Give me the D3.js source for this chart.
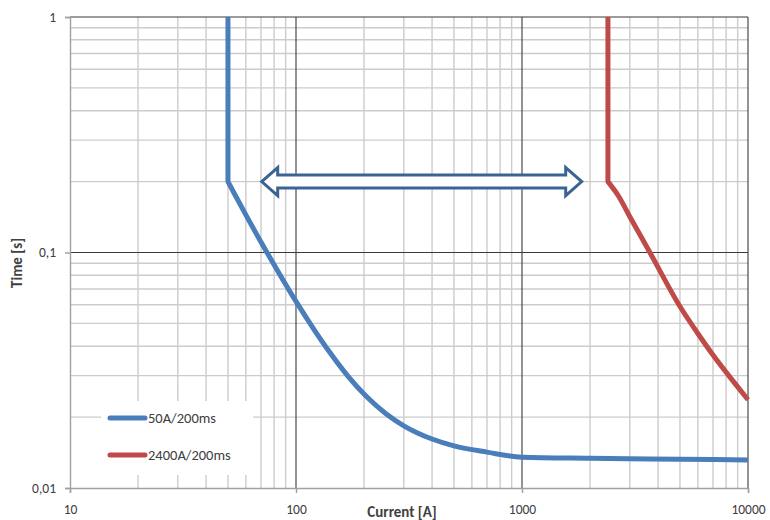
<!DOCTYPE html>
<html>
<head>
<meta charset="utf-8">
<script src="https://cdn.jsdelivr.net/npm/d3@7/dist/d3.min.js"></script>
<style>
  body { margin: 0; background: #fff; }
  svg text { font-family: Carlito, Lato, "Open Sans", sans-serif; fill: #404040; }
</style>
</head>
<body>
<div id="chart"></div>
<script>
// series data
const blueCurrent = [50, 50, 53.7, 60, 73, 85, 100, 120, 141, 170, 205, 250, 300, 400, 500, 700, 1000, 2000, 5000, 10000];
const blueTime = [1, 0.2, 0.1759, 0.1445, 0.1032, 0.0803, 0.062, 0.0472, 0.0377, 0.0298, 0.02446, 0.02067, 0.01837, 0.01614, 0.01509, 0.0142, 0.01352, 0.01338, 0.01325, 0.01315];
const redCurrent = [2400, 2400, 2668, 3000, 3681, 5000, 6000, 7015, 8913, 10000];
const redTime = [1, 0.2, 0.1742, 0.1419, 0.1, 0.059, 0.0453, 0.0366, 0.0272, 0.0237];
const seriesNames = ['50A/200ms', '2400A/200ms'];
const seriesColors = ['#4a7ebb', '#be4b48'];

const xTicks = [10, 100, 1000, 10000];
const yTicks = [0.01, 0.1, 1];
const yTickLabels = ['0,01', '0,1', '1'];

// double arrow annotation (in data units)
const arrowFrom = 70.5;
const arrowTo = 1837;
const arrowTime = 0.2;

const width = 770, height = 520;
const margin = { top: 17, right: 22, bottom: 32, left: 70 };
const fontStack = 'Carlito, Lato, "Open Sans", sans-serif';

const svg = d3.select('#chart').append('svg')
  .attr('width', width)
  .attr('height', height);

const x = d3.scaleLog().domain([10, 10000]).range([margin.left, width - margin.right]);
const y = d3.scaleLog().domain([0.01, 1]).range([height - margin.bottom, margin.top]);

const grid = svg.append('g').attr('class', 'grid');

// minor grid values
const minorX = [], minorY = [];
[10, 100, 1000].forEach(d => { for (let k = 2; k <= 9; k++) minorX.push(d * k); });
[0.01, 0.1].forEach(d => { for (let k = 2; k <= 9; k++) minorY.push(d * k); });

grid.selectAll('.minor-x').data(minorX).enter().append('line')
  .attr('x1', d => x(d)).attr('x2', d => x(d))
  .attr('y1', y(0.01)).attr('y2', y(1))
  .attr('stroke', '#cccccc').attr('stroke-width', 1.4);

grid.selectAll('.minor-y').data(minorY).enter().append('line')
  .attr('x1', x(10)).attr('x2', x(10000))
  .attr('y1', d => y(d)).attr('y2', d => y(d))
  .attr('stroke', '#cccccc').attr('stroke-width', 1.4);

// major grid lines
grid.selectAll('.major-x').data(xTicks.slice(1)).enter().append('line')
  .attr('x1', d => x(d)).attr('x2', d => x(d))
  .attr('y1', y(0.01)).attr('y2', y(1))
  .attr('stroke', '#3a3a3a').attr('stroke-width', 1.1);

grid.selectAll('.major-y').data(yTicks.slice(1)).enter().append('line')
  .attr('x1', x(10)).attr('x2', x(10000))
  .attr('y1', d => y(d)).attr('y2', d => y(d))
  .attr('stroke', '#3a3a3a').attr('stroke-width', 1.1);

// axes
const xAxis = svg.append('g')
  .attr('transform', `translate(0, ${y(0.01)})`)
  .call(d3.axisBottom(x).tickValues(xTicks).tickFormat(d3.format('d')).tickSizeOuter(0).tickSize(5).tickPadding(11));
const yAxis = svg.append('g')
  .attr('transform', `translate(${x(10)}, 0)`)
  .call(d3.axisLeft(y).tickValues(yTicks).tickFormat((d, i) => yTickLabels[i]).tickSizeOuter(0).tickSize(5).tickPadding(9));

[xAxis, yAxis].forEach(a => {
  a.select('.domain').attr('stroke', '#a0a0a0').attr('stroke-width', 1.4);
  a.selectAll('.tick line').attr('stroke', '#a0a0a0').attr('stroke-width', 1.4);
  a.selectAll('.tick text').attr('font-size', 13.5).attr('fill', '#404040')
    .style('font-family', fontStack);
});

// axis titles
svg.append('text')
  .attr('x', 402).attr('y', 517)
  .attr('text-anchor', 'middle')
  .attr('font-size', 15).attr('font-weight', 'bold')
  .text('Current [A]');
svg.append('text')
  .attr('transform', `translate(22, 263) rotate(-90)`)
  .attr('text-anchor', 'middle')
  .attr('font-size', 15).attr('font-weight', 'bold')
  .text('Time [s]');

// curves: straight vertical drop, then a smooth decay
const smooth = d3.line().x(d => x(d[0])).y(d => y(d[1])).curve(d3.curveMonotoneX);
const series = [
  d3.zip(blueCurrent, blueTime),
  d3.zip(redCurrent, redTime)
];
svg.append('g').selectAll('path').data(series).enter().append('path')
  .attr('d', d => `M${x(d[0][0])},${y(d[0][1])}L` + smooth(d.slice(1)).slice(1))
  .attr('fill', 'none')
  .attr('stroke', (d, i) => seriesColors[i])
  .attr('stroke-width', 5)
  .attr('stroke-linejoin', 'round');

// double arrow
const ax0 = x(arrowFrom), ax1 = x(arrowTo), ay = y(arrowTime);
const headLen = 16, headHalf = 14, shaftHalf = 6.5;
const arrowPts = [
  [ax0, ay],
  [ax0 + headLen, ay - headHalf],
  [ax0 + headLen, ay - shaftHalf],
  [ax1 - headLen, ay - shaftHalf],
  [ax1 - headLen, ay - headHalf],
  [ax1, ay],
  [ax1 - headLen, ay + headHalf],
  [ax1 - headLen, ay + shaftHalf],
  [ax0 + headLen, ay + shaftHalf],
  [ax0 + headLen, ay + headHalf]
];
svg.append('path')
  .attr('d', 'M' + arrowPts.map(p => p.join(',')).join('L') + 'Z')
  .attr('fill', '#fff')
  .attr('stroke', '#3b6393')
  .attr('stroke-width', 3)
  .attr('stroke-linejoin', 'miter');

// legend
const legend = svg.append('g').attr('transform', 'translate(101, 401)');
legend.append('rect')
  .attr('width', 152).attr('height', 74)
  .attr('fill', '#fff');
const items = legend.selectAll('.item').data(seriesNames).enter().append('g')
  .attr('transform', (d, i) => `translate(0, ${17 + i * 37})`);
items.append('line')
  .attr('x1', 9).attr('x2', 44)
  .attr('stroke', (d, i) => seriesColors[i])
  .attr('stroke-width', 5)
  .attr('stroke-linecap', 'round');
items.append('text')
  .attr('x', 47).attr('y', 5)
  .attr('font-size', 14.5)
  .text(d => d);
</script>
</body>
</html>
